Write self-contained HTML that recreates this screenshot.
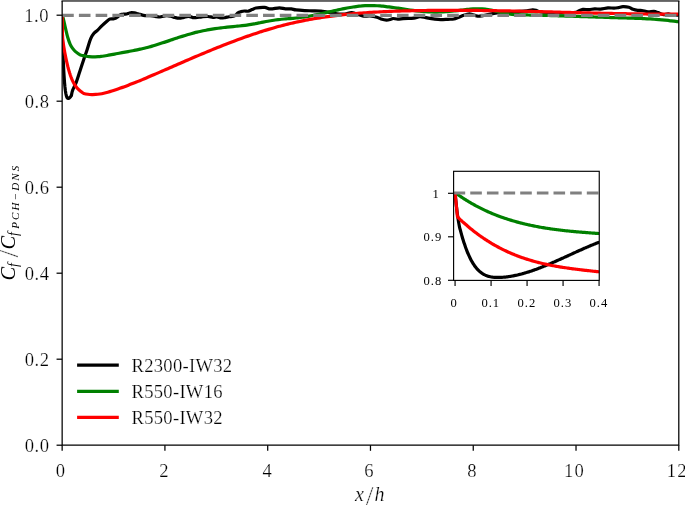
<!DOCTYPE html>
<html lang="en"><head><meta charset="utf-8"><title>Cf ratio</title>
<style>html,body{margin:0;padding:0;background:#fff;overflow:hidden}svg{display:block}text{stroke-linejoin:round;font-family:"Liberation Serif",serif;fill:#000;stroke:#fff;stroke-width:0.24px}.ns text{stroke:none}</style></head><body>
<svg width="685" height="505" viewBox="0 0 685 505">
<rect width="685" height="505" fill="#fff"/>
<defs><clipPath id="cm"><rect x="62.15" y="0" width="616.65" height="445.20"/></clipPath>
<clipPath id="ci"><rect x="453.60" y="171.30" width="145.65" height="109.10"/></clipPath></defs>
<g clip-path="url(#cm)" fill="none" stroke-width="3.20" stroke-linejoin="round" stroke-linecap="butt">
<path d="M62.15,15.20 C62.18,17.13 62.27,23.19 62.33,26.77 C62.38,30.34 62.43,33.19 62.50,36.65 C62.57,40.11 62.69,45.05 62.75,47.51 C62.82,49.97 62.85,50.15 62.90,51.42 C62.94,52.68 62.99,53.91 63.04,55.11 C63.09,56.30 63.13,57.46 63.18,58.59 C63.23,59.71 63.28,60.80 63.32,61.86 C63.37,62.92 63.42,63.95 63.47,64.94 C63.52,65.93 63.56,66.89 63.61,67.83 C63.66,68.76 63.71,69.66 63.75,70.53 C63.80,71.40 63.85,72.24 63.90,73.06 C63.94,73.87 63.99,74.65 64.04,75.41 C64.09,76.17 64.13,76.90 64.18,77.61 C64.23,78.31 64.28,78.99 64.32,79.65 C64.37,80.30 64.42,80.93 64.47,81.53 C64.51,82.14 64.56,82.72 64.61,83.28 C64.66,83.84 64.70,84.38 64.75,84.89 C64.80,85.41 64.85,85.90 64.89,86.38 C64.94,86.85 64.99,87.30 65.04,87.74 C65.09,88.17 65.13,88.59 65.18,88.99 C65.23,89.38 65.28,89.76 65.32,90.13 C65.37,90.49 65.42,90.83 65.47,91.17 C65.51,91.50 65.56,91.81 65.61,92.11 C65.66,92.41 65.70,92.70 65.75,92.97 C65.80,93.24 65.85,93.50 65.89,93.75 C65.94,93.99 65.99,94.22 66.04,94.44 C66.08,94.66 66.13,94.87 66.18,95.07 C66.23,95.27 66.27,95.45 66.32,95.62 C66.37,95.80 66.42,95.96 66.47,96.11 C66.51,96.27 66.56,96.41 66.61,96.54 C66.66,96.67 66.70,96.80 66.75,96.91 C66.80,97.03 66.85,97.13 66.89,97.23 C66.94,97.33 66.99,97.41 67.04,97.50 C67.08,97.58 67.13,97.65 67.18,97.72 C67.23,97.79 67.27,97.85 67.32,97.90 C67.37,97.95 67.42,98.00 67.46,98.05 C67.51,98.09 67.56,98.12 67.61,98.16 C67.65,98.19 67.70,98.22 67.75,98.24 C67.80,98.27 67.84,98.28 67.89,98.30 C67.94,98.32 67.99,98.33 68.04,98.34 C68.08,98.35 68.13,98.36 68.18,98.36 C68.23,98.37 68.27,98.37 68.32,98.37 C68.37,98.37 68.42,98.36 68.46,98.36 C68.51,98.35 68.56,98.34 68.61,98.33 C68.65,98.32 68.70,98.31 68.75,98.29 C68.80,98.27 68.84,98.26 68.89,98.23 C68.94,98.21 68.99,98.19 69.03,98.16 C69.08,98.14 69.13,98.11 69.18,98.08 C69.22,98.05 69.27,98.02 69.32,97.98 C69.37,97.95 69.42,97.91 69.46,97.87 C69.51,97.84 69.56,97.79 69.61,97.75 C69.65,97.71 69.70,97.66 69.75,97.62 C69.80,97.57 69.84,97.52 69.89,97.47 C69.94,97.42 69.99,97.37 70.03,97.32 C70.08,97.26 70.13,97.21 70.18,97.15 C70.22,97.09 70.27,97.03 70.32,96.97 C70.37,96.91 70.41,96.85 70.46,96.78 C70.51,96.72 70.56,96.66 70.60,96.59 C70.65,96.52 70.70,96.45 70.75,96.38 C70.79,96.31 70.84,96.24 70.89,96.17 C70.94,96.10 70.99,96.02 71.03,95.94 C71.08,95.87 71.13,95.79 71.18,95.71 C71.22,95.63 71.27,95.55 71.32,95.47 C71.37,95.39 71.25,96.07 71.46,95.22 C71.67,94.38 71.79,92.59 72.60,90.40 C73.41,88.21 75.10,85.27 76.30,82.10 C77.50,78.93 78.60,75.05 79.80,71.40 C81.00,67.75 82.28,63.82 83.50,60.20 C84.72,56.58 85.92,53.27 87.10,49.70 C88.28,46.13 89.45,41.53 90.60,38.80 C91.75,36.07 92.87,34.70 94.00,33.30 C95.13,31.90 96.02,31.73 97.40,30.40 C98.78,29.07 100.67,26.88 102.30,25.30 C103.93,23.72 105.92,21.93 107.20,20.90 C108.48,19.87 109.03,19.43 110.00,19.10 C110.97,18.77 112.08,19.02 113.00,18.90 C113.92,18.78 114.75,18.72 115.50,18.40 C116.25,18.08 116.83,17.52 117.50,17.00 C118.17,16.48 118.83,15.73 119.50,15.30 C120.17,14.87 120.75,14.60 121.50,14.40 C122.25,14.20 123.13,14.17 124.00,14.10 C124.87,14.03 125.87,14.15 126.70,14.00 C127.53,13.85 128.18,13.45 129.00,13.20 C129.82,12.95 130.68,12.55 131.60,12.50 C132.52,12.45 133.47,12.68 134.50,12.90 C135.53,13.12 136.88,13.55 137.80,13.80 C138.72,14.05 139.05,14.15 140.00,14.40 C140.95,14.65 142.17,15.08 143.50,15.30 C144.83,15.52 146.48,15.60 148.00,15.70 C149.52,15.80 151.27,15.75 152.60,15.90 C153.93,16.05 154.77,16.42 156.00,16.60 C157.23,16.78 158.75,17.07 160.00,17.00 C161.25,16.93 162.33,16.43 163.50,16.20 C164.67,15.97 165.75,15.58 167.00,15.60 C168.25,15.62 169.67,15.98 171.00,16.30 C172.33,16.62 173.68,17.18 175.00,17.50 C176.32,17.82 177.57,18.18 178.90,18.20 C180.23,18.22 181.48,17.92 183.00,17.60 C184.52,17.28 186.67,16.42 188.00,16.30 C189.33,16.18 190.07,16.67 191.00,16.90 C191.93,17.13 192.60,17.62 193.60,17.70 C194.60,17.78 195.60,17.55 197.00,17.40 C198.40,17.25 200.17,16.95 202.00,16.80 C203.83,16.65 206.18,16.42 208.00,16.50 C209.82,16.58 211.40,17.22 212.90,17.30 C214.40,17.38 215.60,16.88 217.00,17.00 C218.40,17.12 219.97,17.90 221.30,18.00 C222.63,18.10 223.72,17.80 225.00,17.60 C226.28,17.40 227.40,17.10 229.00,16.80 C230.60,16.50 233.10,16.47 234.60,15.80 C236.10,15.13 236.93,13.50 238.00,12.80 C239.07,12.10 239.93,11.90 241.00,11.60 C242.07,11.30 243.23,11.07 244.40,11.00 C245.57,10.93 246.73,11.43 248.00,11.20 C249.27,10.97 250.67,10.13 252.00,9.60 C253.33,9.07 253.90,8.37 256.00,8.00 C258.10,7.63 262.18,7.25 264.60,7.40 C267.02,7.55 268.03,8.83 270.50,8.90 C272.97,8.97 276.92,7.80 279.40,7.80 C281.88,7.80 283.42,8.72 285.40,8.90 C287.38,9.08 289.53,8.73 291.30,8.90 C293.07,9.07 293.77,9.67 296.00,9.95 C298.23,10.23 302.03,10.46 304.70,10.60 C307.37,10.74 309.45,10.73 312.00,10.80 C314.55,10.87 317.92,10.88 320.00,11.00 C322.08,11.12 321.67,11.02 324.50,11.50 C327.33,11.98 333.58,13.48 337.00,13.90 C340.42,14.32 342.53,14.22 345.00,14.00 C347.47,13.78 349.35,12.43 351.80,12.60 C354.25,12.77 357.72,14.40 359.70,15.00 C361.68,15.60 361.98,16.03 363.70,16.20 C365.42,16.37 367.80,15.83 370.00,16.00 C372.20,16.17 375.07,16.70 376.90,17.20 C378.73,17.70 379.42,18.52 381.00,19.00 C382.58,19.48 384.73,20.07 386.40,20.10 C388.07,20.13 389.90,19.47 391.00,19.20 C392.10,18.93 391.88,18.52 393.00,18.50 C394.12,18.48 396.03,19.08 397.70,19.10 C399.37,19.12 401.28,18.73 403.00,18.60 C404.72,18.47 406.17,18.37 408.00,18.30 C409.83,18.23 412.02,18.47 414.00,18.20 C415.98,17.93 417.93,16.78 419.90,16.70 C421.87,16.62 424.12,17.42 425.80,17.70 C427.48,17.98 428.52,18.16 430.00,18.40 C431.48,18.64 432.92,18.95 434.70,19.15 C436.48,19.35 438.48,19.58 440.70,19.60 C442.92,19.62 445.78,19.40 448.00,19.30 C450.22,19.20 452.32,19.30 454.00,19.00 C455.68,18.70 456.62,18.07 458.10,17.50 C459.58,16.93 461.42,16.15 462.90,15.60 C464.38,15.05 465.72,14.47 467.00,14.20 C468.28,13.93 469.43,13.87 470.60,14.00 C471.77,14.13 472.82,14.63 474.00,15.00 C475.18,15.37 476.38,16.05 477.70,16.20 C479.02,16.35 480.52,16.10 481.90,15.90 C483.28,15.70 483.98,15.43 486.00,15.00 C488.02,14.57 490.83,13.77 494.00,13.30 C497.17,12.83 500.67,12.52 505.00,12.20 C509.33,11.88 516.33,11.63 520.00,11.40 C523.67,11.17 524.92,11.05 527.00,10.80 C529.08,10.55 531.00,9.98 532.50,9.90 C534.00,9.82 534.77,10.00 536.00,10.30 C537.23,10.60 537.90,11.33 539.90,11.70 C541.90,12.07 544.48,12.28 548.00,12.50 C551.52,12.72 557.33,12.95 561.00,13.00 C564.67,13.05 567.50,12.93 570.00,12.80 C572.50,12.67 574.55,12.50 576.00,12.20 C577.45,11.90 577.55,11.47 578.70,11.00 C579.85,10.53 581.22,9.57 582.90,9.35 C584.58,9.12 586.83,9.72 588.80,9.65 C590.77,9.58 592.72,9.00 594.70,8.90 C596.68,8.80 598.48,9.22 600.70,9.05 C602.92,8.88 605.78,8.05 608.00,7.90 C610.22,7.75 612.27,8.20 614.00,8.15 C615.73,8.10 616.92,7.85 618.40,7.60 C619.88,7.35 621.17,6.71 622.90,6.65 C624.63,6.59 627.12,6.80 628.80,7.25 C630.48,7.70 631.52,8.82 633.00,9.35 C634.48,9.88 636.22,10.21 637.70,10.40 C639.18,10.59 640.18,10.27 641.90,10.50 C643.62,10.73 646.00,11.65 648.00,11.80 C650.00,11.95 652.23,11.27 653.90,11.40 C655.57,11.53 656.40,12.05 658.00,12.60 C659.60,13.15 661.80,14.48 663.50,14.70 C665.20,14.92 666.78,13.85 668.20,13.90 C669.62,13.95 670.70,14.78 672.00,15.00 C673.30,15.22 674.87,15.18 676.00,15.20 C677.13,15.22 677.80,15.13 678.80,15.10 C679.80,15.07 681.47,15.02 682.00,15.00" stroke="#000"/>
<path d="M62.40,15.20 C62.65,16.17 63.42,18.97 63.90,21.00 C64.38,23.03 64.67,24.68 65.30,27.40 C65.93,30.12 66.88,34.48 67.70,37.30 C68.52,40.12 69.38,42.45 70.20,44.30 C71.02,46.15 71.77,47.22 72.60,48.40 C73.43,49.58 73.95,50.33 75.20,51.40 C76.45,52.47 78.78,54.11 80.10,54.83 C81.42,55.54 82.10,55.44 83.10,55.68 C84.10,55.92 85.10,56.12 86.10,56.28 C87.10,56.44 88.10,56.56 89.10,56.65 C90.10,56.74 91.10,56.79 92.10,56.82 C93.10,56.85 94.10,56.84 95.10,56.81 C96.10,56.78 97.10,56.72 98.10,56.65 C99.10,56.57 100.10,56.47 101.10,56.35 C102.10,56.24 103.10,56.10 104.10,55.96 C105.10,55.81 106.10,55.65 107.10,55.48 C108.10,55.31 109.10,55.13 110.10,54.94 C111.10,54.76 112.10,54.57 113.10,54.38 C114.10,54.19 115.10,53.99 116.10,53.80 C117.10,53.61 118.10,53.43 119.10,53.24 C120.10,53.05 121.10,52.87 122.10,52.69 C123.10,52.50 124.10,52.32 125.10,52.14 C126.10,51.95 127.10,51.77 128.10,51.58 C129.10,51.39 130.10,51.20 131.10,51.01 C132.10,50.82 133.10,50.62 134.10,50.42 C135.10,50.22 136.10,50.02 137.10,49.81 C138.10,49.60 139.10,49.39 140.10,49.17 C141.10,48.94 142.10,48.72 143.10,48.48 C144.10,48.25 145.10,48.00 146.10,47.75 C147.10,47.50 148.10,47.23 149.10,46.96 C150.10,46.69 151.10,46.41 152.10,46.12 C153.10,45.84 154.10,45.54 155.10,45.24 C156.10,44.93 157.10,44.62 158.10,44.31 C159.10,43.99 160.10,43.67 161.10,43.35 C162.10,43.02 163.10,42.69 164.10,42.36 C165.10,42.03 166.10,41.70 167.10,41.36 C168.10,41.03 169.10,40.69 170.10,40.35 C171.10,40.02 172.10,39.68 173.10,39.34 C174.10,39.01 175.10,38.67 176.10,38.34 C177.10,38.01 178.10,37.67 179.10,37.35 C180.10,37.02 181.10,36.70 182.10,36.38 C183.10,36.06 184.10,35.75 185.10,35.44 C186.10,35.14 187.10,34.84 188.10,34.55 C189.10,34.25 190.10,33.97 191.10,33.69 C192.10,33.42 193.10,33.15 194.10,32.89 C195.10,32.63 196.10,32.38 197.10,32.14 C198.10,31.90 199.10,31.67 200.10,31.45 C201.10,31.23 202.10,31.01 203.10,30.80 C204.10,30.60 205.10,30.40 206.10,30.21 C207.10,30.01 208.10,29.83 209.10,29.65 C210.10,29.48 211.10,29.31 212.10,29.14 C213.10,28.98 214.10,28.82 215.10,28.67 C216.10,28.52 217.10,28.38 218.10,28.24 C219.10,28.10 220.10,27.97 221.10,27.84 C222.10,27.72 223.10,27.59 224.10,27.48 C225.10,27.36 226.10,27.25 227.10,27.15 C228.10,27.04 229.10,26.94 230.10,26.84 C231.10,26.74 232.10,26.65 233.10,26.56 C234.10,26.46 235.10,26.37 236.10,26.28 C237.10,26.18 238.10,26.09 239.10,25.98 C240.10,25.88 241.10,25.78 242.10,25.67 C243.10,25.56 244.10,25.44 245.10,25.32 C246.10,25.19 247.10,25.06 248.10,24.91 C249.10,24.77 250.10,24.61 251.10,24.44 C252.10,24.27 253.10,24.09 254.10,23.90 C255.10,23.72 256.10,23.52 257.10,23.32 C258.10,23.13 259.10,22.92 260.10,22.72 C261.10,22.52 262.10,22.31 263.10,22.11 C264.10,21.91 265.10,21.72 266.10,21.53 C267.10,21.34 268.10,21.15 269.10,20.98 C270.10,20.80 271.10,20.63 272.10,20.48 C273.10,20.32 274.10,20.16 275.10,20.02 C276.10,19.88 277.10,19.75 278.10,19.62 C279.10,19.50 280.10,19.38 281.10,19.28 C282.10,19.18 283.10,19.08 284.10,19.00 C285.10,18.91 286.10,18.84 287.10,18.76 C288.10,18.68 289.10,18.61 290.10,18.53 C291.10,18.46 292.10,18.38 293.10,18.30 C294.10,18.21 295.10,18.12 296.10,18.02 C297.10,17.92 298.10,17.81 299.10,17.68 C300.10,17.56 301.10,17.43 302.10,17.28 C303.10,17.14 304.10,16.99 305.10,16.83 C306.10,16.67 307.10,16.50 308.10,16.33 C309.10,16.15 310.10,15.97 311.10,15.78 C312.10,15.59 313.10,15.39 314.10,15.19 C315.10,14.99 316.10,14.79 317.10,14.58 C318.10,14.37 319.10,14.15 320.10,13.93 C321.10,13.71 322.10,13.49 323.10,13.27 C324.10,13.05 325.10,12.82 326.10,12.59 C327.10,12.36 328.10,12.13 329.10,11.90 C330.10,11.68 331.10,11.44 332.10,11.22 C333.10,10.99 334.10,10.76 335.10,10.53 C336.10,10.31 337.10,10.08 338.10,9.86 C339.10,9.64 340.10,9.43 341.10,9.21 C342.10,9.00 343.10,8.80 344.10,8.59 C345.10,8.39 346.10,8.20 347.10,8.01 C348.10,7.82 349.10,7.64 350.10,7.47 C351.10,7.30 352.10,7.13 353.10,6.98 C354.10,6.82 355.10,6.68 356.10,6.55 C357.10,6.41 358.10,6.29 359.10,6.18 C360.10,6.07 361.10,5.97 362.10,5.89 C363.10,5.81 364.10,5.74 365.10,5.68 C366.10,5.62 367.10,5.58 368.10,5.56 C369.10,5.53 370.10,5.53 371.10,5.53 C372.10,5.54 373.10,5.56 374.10,5.59 C375.10,5.63 376.10,5.67 377.10,5.73 C378.10,5.79 379.10,5.86 380.10,5.94 C381.10,6.02 382.10,6.11 383.10,6.21 C384.10,6.31 385.10,6.42 386.10,6.54 C387.10,6.65 388.10,6.78 389.10,6.91 C390.10,7.04 391.10,7.17 392.10,7.31 C393.10,7.45 394.10,7.60 395.10,7.75 C396.10,7.89 397.10,8.05 398.10,8.20 C399.10,8.35 400.10,8.51 401.10,8.66 C402.10,8.82 403.10,8.97 404.10,9.13 C405.10,9.28 406.10,9.43 407.10,9.58 C408.10,9.73 409.10,9.88 410.10,10.03 C411.10,10.17 412.10,10.31 413.10,10.45 C414.10,10.58 415.10,10.71 416.10,10.83 C417.10,10.95 418.10,11.07 419.10,11.18 C420.10,11.28 421.10,11.39 422.10,11.47 C423.10,11.56 424.10,11.64 425.10,11.71 C426.10,11.78 427.10,11.84 428.10,11.89 C429.10,11.93 430.10,11.97 431.10,12.00 C432.10,12.02 433.10,12.04 434.10,12.04 C435.10,12.05 436.10,12.05 437.10,12.03 C438.10,12.02 439.10,12.00 440.10,11.97 C441.10,11.94 442.10,11.90 443.10,11.85 C444.10,11.80 445.10,11.75 446.10,11.68 C447.10,11.62 448.10,11.54 449.10,11.46 C450.10,11.38 451.10,11.30 452.10,11.20 C453.10,11.11 454.10,11.00 455.10,10.90 C456.10,10.79 457.10,10.67 458.10,10.55 C459.10,10.43 460.10,10.30 461.10,10.17 C462.10,10.05 463.10,9.91 464.10,9.79 C465.10,9.66 466.10,9.54 467.10,9.43 C468.10,9.32 469.10,9.21 470.10,9.12 C471.10,9.03 472.10,8.95 473.10,8.89 C474.10,8.83 475.10,8.78 476.10,8.76 C477.10,8.73 478.10,8.73 479.10,8.74 C480.10,8.76 481.10,8.80 482.10,8.87 C483.10,8.94 484.10,9.04 485.10,9.16 C486.10,9.28 487.10,9.44 488.10,9.61 C489.10,9.77 490.10,9.97 491.10,10.17 C492.10,10.37 493.10,10.59 494.10,10.81 C495.10,11.04 496.10,11.27 497.10,11.50 C498.10,11.73 499.10,11.96 500.10,12.19 C501.10,12.41 502.10,12.64 503.10,12.84 C504.10,13.05 505.10,13.25 506.10,13.43 C507.10,13.61 508.10,13.78 509.10,13.92 C510.10,14.07 511.10,14.18 512.10,14.29 C513.10,14.39 514.10,14.47 515.10,14.55 C516.10,14.62 517.10,14.67 518.10,14.72 C519.10,14.77 520.10,14.80 521.10,14.83 C522.10,14.86 523.10,14.88 524.10,14.91 C525.10,14.93 526.10,14.95 527.10,14.97 C528.10,14.99 529.10,15.01 530.10,15.03 C531.10,15.05 532.10,15.07 533.10,15.09 C534.10,15.12 535.10,15.14 536.10,15.16 C537.10,15.19 538.10,15.21 539.10,15.24 C540.10,15.26 541.10,15.29 542.10,15.31 C543.10,15.34 544.10,15.37 545.10,15.40 C546.10,15.42 547.10,15.45 548.10,15.48 C549.10,15.51 550.10,15.54 551.10,15.57 C552.10,15.59 553.10,15.62 554.10,15.65 C555.10,15.68 556.10,15.72 557.10,15.75 C558.10,15.78 559.10,15.81 560.10,15.84 C561.10,15.87 562.10,15.90 563.10,15.94 C564.10,15.97 565.10,16.00 566.10,16.03 C567.10,16.07 568.10,16.10 569.10,16.13 C570.10,16.16 571.10,16.20 572.10,16.23 C573.10,16.27 574.10,16.30 575.10,16.33 C576.10,16.37 577.10,16.40 578.10,16.44 C579.10,16.47 580.10,16.50 581.10,16.54 C582.10,16.57 583.10,16.61 584.10,16.64 C585.10,16.68 586.10,16.71 587.10,16.74 C588.10,16.78 589.10,16.81 590.10,16.85 C591.10,16.88 592.10,16.92 593.10,16.95 C594.10,16.98 595.10,17.02 596.10,17.05 C597.10,17.09 598.10,17.12 599.10,17.15 C600.10,17.19 601.10,17.22 602.10,17.26 C603.10,17.29 604.10,17.32 605.10,17.36 C606.10,17.39 607.10,17.42 608.10,17.45 C609.10,17.49 610.10,17.52 611.10,17.55 C612.10,17.58 613.10,17.61 614.10,17.65 C615.10,17.68 616.10,17.71 617.10,17.74 C618.10,17.77 619.10,17.80 620.10,17.83 C621.10,17.86 622.10,17.89 623.10,17.92 C624.10,17.95 625.10,17.98 626.10,18.01 C627.10,18.04 628.10,18.07 629.10,18.10 C630.10,18.13 631.10,18.16 632.10,18.19 C633.10,18.22 634.10,18.26 635.10,18.29 C636.10,18.33 637.10,18.36 638.10,18.40 C639.10,18.44 640.10,18.48 641.10,18.52 C642.10,18.57 643.10,18.61 644.10,18.66 C645.10,18.70 646.10,18.75 647.10,18.81 C648.10,18.86 649.10,18.91 650.10,18.97 C651.10,19.03 652.10,19.09 653.10,19.16 C654.10,19.23 655.10,19.29 656.10,19.37 C657.10,19.44 658.10,19.52 659.10,19.60 C660.10,19.68 661.10,19.77 662.10,19.86 C663.10,19.95 664.10,20.05 665.10,20.15 C666.10,20.25 667.10,20.35 668.10,20.46 C669.10,20.58 670.10,20.69 671.10,20.82 C672.10,20.94 673.10,21.07 674.10,21.20 C675.10,21.34 676.10,21.48 677.10,21.62 C678.10,21.77 679.28,21.96 680.10,22.09 C680.92,22.22 681.68,22.35 682.00,22.40" stroke="#008000"/>
<path d="M62.15,15.20 C62.21,19.09 62.44,34.66 62.50,38.55 C62.54,38.87 62.69,39.83 62.78,40.45 C62.88,41.08 62.97,41.69 63.07,42.30 C63.16,42.91 63.26,43.51 63.35,44.10 C63.45,44.70 63.54,45.28 63.64,45.86 C63.73,46.43 63.83,47.00 63.92,47.56 C64.02,48.13 64.11,48.68 64.21,49.23 C64.30,49.77 64.40,50.31 64.50,50.84 C64.59,51.37 64.69,51.90 64.78,52.41 C64.88,52.93 64.97,53.44 65.07,53.94 C65.16,54.44 65.26,54.93 65.35,55.42 C65.45,55.91 65.54,56.39 65.64,56.86 C65.73,57.33 65.83,57.80 65.92,58.26 C66.02,58.72 66.11,59.17 66.21,59.62 C66.30,60.06 66.40,60.50 66.49,60.93 C66.59,61.37 66.68,61.79 66.78,62.21 C66.87,62.63 66.97,63.04 67.06,63.45 C67.16,63.86 67.25,64.25 67.35,64.65 C67.45,65.04 67.54,65.43 67.64,65.81 C67.73,66.19 67.83,66.57 67.92,66.94 C68.02,67.31 68.11,67.67 68.21,68.03 C68.30,68.38 68.40,68.73 68.49,69.08 C68.59,69.43 68.68,69.76 68.78,70.10 C68.87,70.43 68.97,70.76 69.06,71.08 C69.16,71.41 69.25,71.72 69.35,72.04 C69.44,72.35 69.54,72.66 69.63,72.96 C69.73,73.26 69.82,73.55 69.92,73.85 C70.01,74.14 70.11,74.42 70.20,74.70 C70.30,74.98 70.40,75.26 70.49,75.53 C70.59,75.80 70.68,76.07 70.78,76.33 C70.87,76.59 70.97,76.84 71.06,77.10 C71.16,77.35 71.25,77.59 71.35,77.84 C71.44,78.08 71.54,78.32 71.63,78.55 C71.73,78.78 71.82,79.01 71.92,79.24 C72.01,79.46 72.11,79.68 72.20,79.90 C72.30,80.11 72.39,80.33 72.49,80.53 C72.58,80.74 72.68,80.95 72.77,81.15 C72.87,81.35 72.96,81.54 73.06,81.73 C73.16,81.93 73.25,82.11 73.35,82.30 C73.44,82.48 73.54,82.66 73.63,82.84 C73.73,83.02 73.82,83.19 73.92,83.36 C74.01,83.53 74.11,83.70 74.20,83.86 C74.30,84.03 74.39,84.19 74.49,84.34 C74.58,84.50 74.68,84.66 74.77,84.81 C74.87,84.96 74.96,85.10 75.06,85.25 C75.15,85.39 75.25,85.54 75.34,85.67 C75.44,85.81 75.53,85.95 75.63,86.08 C75.72,86.22 75.82,86.35 75.91,86.47 C76.01,86.60 76.11,86.73 76.20,86.85 C76.30,86.97 76.39,87.09 76.49,87.21 C76.58,87.33 76.68,87.44 76.77,87.56 C76.87,87.67 76.96,87.78 77.06,87.89 C77.15,88.00 77.25,88.11 77.34,88.21 C77.44,88.32 77.53,88.42 77.63,88.52 C77.72,88.62 77.82,88.72 77.91,88.82 C78.01,88.92 78.10,89.01 78.20,89.11 C78.29,89.20 78.39,89.29 78.48,89.38 C78.58,89.48 78.67,89.56 78.77,89.65 C78.86,89.74 78.96,89.83 79.06,89.91 C79.15,90.00 79.25,90.08 79.34,90.17 C79.44,90.25 79.53,90.33 79.63,90.41 C79.72,90.49 79.82,90.57 79.91,90.65 C80.01,90.73 80.10,90.81 80.20,90.89 C80.29,90.96 80.39,91.04 80.48,91.12 C80.58,91.19 80.67,91.27 80.77,91.34 C80.86,91.42 80.96,91.49 81.05,91.56 C81.15,91.64 81.24,91.71 81.34,91.78 C81.43,91.86 81.53,91.93 81.62,92.00 C81.72,92.07 81.81,92.15 81.91,92.22 C82.01,92.29 82.10,92.36 82.20,92.44 C82.29,92.51 82.39,92.58 82.48,92.65 C82.58,92.73 82.55,92.74 82.77,92.87 C82.99,93.01 82.96,93.25 83.80,93.48 C84.64,93.71 86.47,94.08 87.80,94.27 C89.13,94.45 90.47,94.54 91.80,94.58 C93.13,94.61 94.47,94.56 95.80,94.47 C97.13,94.38 98.47,94.21 99.80,94.01 C101.13,93.80 102.47,93.54 103.80,93.24 C105.13,92.95 106.47,92.61 107.80,92.24 C109.13,91.87 110.47,91.47 111.80,91.05 C113.13,90.64 114.47,90.19 115.80,89.74 C117.13,89.29 118.47,88.83 119.80,88.35 C121.13,87.88 122.47,87.40 123.80,86.91 C125.13,86.42 126.47,85.92 127.80,85.41 C129.13,84.90 130.47,84.39 131.80,83.86 C133.13,83.34 134.47,82.81 135.80,82.27 C137.13,81.74 138.47,81.19 139.80,80.65 C141.13,80.10 142.47,79.55 143.80,78.99 C145.13,78.43 146.47,77.87 147.80,77.30 C149.13,76.74 150.47,76.17 151.80,75.59 C153.13,75.02 154.47,74.45 155.80,73.87 C157.13,73.30 158.47,72.72 159.80,72.14 C161.13,71.56 162.47,70.98 163.80,70.40 C165.13,69.82 166.47,69.24 167.80,68.66 C169.13,68.08 170.47,67.50 171.80,66.92 C173.13,66.34 174.47,65.76 175.80,65.18 C177.13,64.60 178.47,64.02 179.80,63.44 C181.13,62.86 182.47,62.28 183.80,61.71 C185.13,61.13 186.47,60.56 187.80,59.99 C189.13,59.41 190.47,58.84 191.80,58.27 C193.13,57.70 194.47,57.13 195.80,56.57 C197.13,56.00 198.47,55.43 199.80,54.87 C201.13,54.31 202.47,53.75 203.80,53.19 C205.13,52.64 206.47,52.08 207.80,51.53 C209.13,50.98 210.47,50.43 211.80,49.88 C213.13,49.34 214.47,48.80 215.80,48.26 C217.13,47.72 218.47,47.18 219.80,46.65 C221.13,46.12 222.47,45.59 223.80,45.07 C225.13,44.54 226.47,44.02 227.80,43.50 C229.13,42.99 230.47,42.48 231.80,41.97 C233.13,41.46 234.47,40.96 235.80,40.46 C237.13,39.97 238.47,39.47 239.80,38.99 C241.13,38.50 242.47,38.02 243.80,37.54 C245.13,37.06 246.47,36.59 247.80,36.13 C249.13,35.66 250.47,35.20 251.80,34.75 C253.13,34.29 254.47,33.84 255.80,33.40 C257.13,32.96 258.47,32.52 259.80,32.10 C261.13,31.67 262.47,31.24 263.80,30.83 C265.13,30.41 266.47,30.01 267.80,29.60 C269.13,29.20 270.47,28.81 271.80,28.42 C273.13,28.04 274.47,27.66 275.80,27.29 C277.13,26.91 278.47,26.55 279.80,26.19 C281.13,25.84 282.47,25.49 283.80,25.15 C285.13,24.81 286.47,24.48 287.80,24.16 C289.13,23.83 290.47,23.52 291.80,23.21 C293.13,22.90 294.47,22.60 295.80,22.31 C297.13,22.02 298.47,21.73 299.80,21.45 C301.13,21.17 302.47,20.90 303.80,20.64 C305.13,20.38 306.47,20.12 307.80,19.87 C309.13,19.62 310.47,19.38 311.80,19.14 C313.13,18.91 314.47,18.68 315.80,18.45 C317.13,18.23 318.47,18.01 319.80,17.80 C321.13,17.59 322.47,17.39 323.80,17.19 C325.13,16.99 326.47,16.80 327.80,16.61 C329.13,16.43 330.47,16.25 331.80,16.07 C333.13,15.90 334.47,15.73 335.80,15.56 C337.13,15.40 338.47,15.24 339.80,15.09 C341.13,14.94 342.47,14.79 343.80,14.65 C345.13,14.50 346.47,14.37 347.80,14.23 C349.13,14.10 350.47,13.97 351.80,13.85 C353.13,13.73 354.47,13.61 355.80,13.49 C357.13,13.38 358.47,13.27 359.80,13.16 C361.13,13.06 362.47,12.96 363.80,12.86 C365.13,12.76 366.47,12.67 367.80,12.58 C369.13,12.49 370.47,12.40 371.80,12.32 C373.13,12.24 374.47,12.16 375.80,12.09 C377.13,12.01 378.47,11.94 379.80,11.87 C381.13,11.80 382.47,11.74 383.80,11.68 C385.13,11.61 386.47,11.55 387.80,11.50 C389.13,11.44 390.47,11.39 391.80,11.34 C393.13,11.28 394.47,11.24 395.80,11.19 C397.13,11.14 398.47,11.10 399.80,11.06 C401.13,11.02 402.47,10.98 403.80,10.94 C405.13,10.90 406.47,10.87 407.80,10.83 C409.13,10.80 410.47,10.77 411.80,10.74 C413.13,10.71 414.47,10.68 415.80,10.65 C417.13,10.63 418.47,10.60 419.80,10.58 C421.13,10.56 422.47,10.53 423.80,10.51 C425.13,10.49 426.47,10.48 427.80,10.46 C429.13,10.44 430.47,10.43 431.80,10.41 C433.13,10.40 434.47,10.39 435.80,10.38 C437.13,10.36 438.47,10.36 439.80,10.35 C441.13,10.34 442.47,10.33 443.80,10.33 C445.13,10.32 446.47,10.32 447.80,10.32 C449.13,10.31 450.47,10.31 451.80,10.31 C453.13,10.31 454.47,10.31 455.80,10.32 C457.13,10.32 458.47,10.32 459.80,10.33 C461.13,10.33 462.47,10.34 463.80,10.34 C465.13,10.35 466.47,10.36 467.80,10.37 C469.13,10.38 470.47,10.39 471.80,10.40 C473.13,10.41 474.47,10.42 475.80,10.44 C477.13,10.45 478.47,10.47 479.80,10.48 C481.13,10.50 482.47,10.51 483.80,10.53 C485.13,10.55 486.47,10.57 487.80,10.58 C489.13,10.60 490.47,10.62 491.80,10.64 C493.13,10.67 494.47,10.69 495.80,10.71 C497.13,10.73 498.47,10.75 499.80,10.78 C501.13,10.80 502.47,10.83 503.80,10.85 C505.13,10.88 506.47,10.90 507.80,10.93 C509.13,10.96 510.47,10.98 511.80,11.01 C513.13,11.04 514.47,11.07 515.80,11.09 C517.13,11.12 518.47,11.15 519.80,11.18 C521.13,11.21 522.47,11.24 523.80,11.27 C525.13,11.30 526.47,11.34 527.80,11.37 C529.13,11.40 530.47,11.43 531.80,11.46 C533.13,11.49 534.47,11.53 535.80,11.56 C537.13,11.59 538.47,11.63 539.80,11.66 C541.13,11.69 542.47,11.73 543.80,11.76 C545.13,11.80 546.47,11.83 547.80,11.86 C549.13,11.90 550.47,11.93 551.80,11.97 C553.13,12.00 554.47,12.04 555.80,12.07 C557.13,12.11 558.47,12.14 559.80,12.18 C561.13,12.21 562.47,12.25 563.80,12.28 C565.13,12.32 566.47,12.35 567.80,12.39 C569.13,12.42 570.47,12.45 571.80,12.49 C573.13,12.52 574.47,12.56 575.80,12.59 C577.13,12.63 578.47,12.66 579.80,12.70 C581.13,12.73 582.47,12.76 583.80,12.80 C585.13,12.83 586.47,12.86 587.80,12.90 C589.13,12.93 590.47,12.96 591.80,12.99 C593.13,13.03 594.47,13.06 595.80,13.09 C597.13,13.12 598.47,13.15 599.80,13.18 C601.13,13.22 602.47,13.25 603.80,13.28 C605.13,13.31 606.47,13.33 607.80,13.36 C609.13,13.39 610.47,13.42 611.80,13.45 C613.13,13.48 614.47,13.50 615.80,13.53 C617.13,13.56 618.47,13.58 619.80,13.61 C621.13,13.63 622.47,13.66 623.80,13.68 C625.13,13.71 626.47,13.73 627.80,13.75 C629.13,13.77 630.47,13.80 631.80,13.82 C633.13,13.84 634.47,13.86 635.80,13.88 C637.13,13.90 638.47,13.91 639.80,13.93 C641.13,13.95 642.47,13.97 643.80,13.98 C645.13,14.00 646.47,14.01 647.80,14.03 C649.13,14.04 650.47,14.05 651.80,14.06 C653.13,14.08 654.47,14.09 655.80,14.10 C657.13,14.11 658.47,14.11 659.80,14.12 C661.13,14.13 662.47,14.14 663.80,14.14 C665.13,14.15 666.47,14.15 667.80,14.15 C669.13,14.15 670.47,14.16 671.80,14.16 C673.13,14.16 674.47,14.16 675.80,14.15 C677.13,14.15 678.77,14.15 679.80,14.14 C680.83,14.14 681.63,14.13 682.00,14.13" stroke="#ff0000"/>
<path d="M62.15,15.35 H678.80" stroke="#808080" stroke-dasharray="11.62 5.12"/>
</g>
<rect x="61.52" y="0" width="617.90" height="1.9" fill="#626262"/>
<g stroke="#000" stroke-width="1.25" fill="none">
<path d="M62.15,1 V445.20 H678.80 V1"/>
<path d="M62.15,445.20 h-5.60"/>
<path d="M62.15,359.20 h-5.60"/>
<path d="M62.15,273.20 h-5.60"/>
<path d="M62.15,187.20 h-5.60"/>
<path d="M62.15,101.20 h-5.60"/>
<path d="M62.15,15.20 h-5.60"/>
<path d="M62.15,445.20 v5.60"/>
<path d="M164.92,445.20 v5.60"/>
<path d="M267.70,445.20 v5.60"/>
<path d="M370.47,445.20 v5.60"/>
<path d="M473.25,445.20 v5.60"/>
<path d="M576.02,445.20 v5.60"/>
<path d="M678.80,445.20 v5.60"/>
</g>
<text x="49.70" y="451.90" font-size="18.6" text-anchor="end" letter-spacing="0.6">0.0</text>
<text x="49.70" y="365.90" font-size="18.6" text-anchor="end" letter-spacing="0.6">0.2</text>
<text x="49.70" y="279.90" font-size="18.6" text-anchor="end" letter-spacing="0.6">0.4</text>
<text x="49.70" y="193.90" font-size="18.6" text-anchor="end" letter-spacing="0.6">0.6</text>
<text x="49.70" y="107.90" font-size="18.6" text-anchor="end" letter-spacing="0.6">0.8</text>
<text x="49.20" y="21.90" font-size="18.6" text-anchor="end" letter-spacing="0.6">1.0</text>
<text x="55.85" y="476.6" font-size="18.6">0</text>
<text x="159.15" y="476.6" font-size="18.6">2</text>
<text x="262.40" y="476.6" font-size="18.6">4</text>
<text x="364.15" y="476.6" font-size="18.6">6</text>
<text x="467.20" y="476.6" font-size="18.6">8</text>
<text x="563.95" y="476.6" font-size="18.6" letter-spacing="1.2">10</text>
<text x="666.85" y="476.6" font-size="18.6" letter-spacing="1.2">12</text>
<text x="354.9" y="500.5" font-size="20" font-style="italic">x</text>
<text x="365.4" y="505.6" font-size="29" style="stroke:#fff;stroke-width:0.6px">/</text>
<text x="374.6" y="500.5" font-size="20" font-style="italic">h</text>
<g transform="translate(14.7,280.6) rotate(-90)" font-style="italic" class="ns">
<text x="0" y="0" font-size="20.5">C</text>
<text x="13.6" y="3.4" font-size="14">f</text>
<text x="23.2" y="3.7" font-size="29" font-style="normal" style="stroke:#fff;stroke-width:0.6px">/</text>
<text x="31" y="0" font-size="20.5">C</text>
<text x="44.6" y="3.4" font-size="14">f</text>
<text x="51.8" y="4.5" font-size="11" letter-spacing="2.15">PCH−DNS</text>
</g>
<path d="M77.1,365.20 H118.8" stroke="#000" stroke-width="3.20" fill="none"/>
<text x="131.6" y="371.60" font-size="18.6" letter-spacing="0.26">R2300-IW32</text>
<path d="M77.1,391.30 H118.8" stroke="#008000" stroke-width="3.20" fill="none"/>
<text x="131.6" y="397.70" font-size="18.6" letter-spacing="0.26">R550-IW16</text>
<path d="M77.1,417.40 H118.8" stroke="#ff0000" stroke-width="3.20" fill="none"/>
<text x="131.6" y="423.80" font-size="18.6" letter-spacing="0.26">R550-IW32</text>
<rect x="453.60" y="171.30" width="145.65" height="109.10" fill="#fff"/>
<g clip-path="url(#ci)" fill="none" stroke-width="3.20" stroke-linejoin="round">
<path d="M455.10,193.30 C455.30,195.25 455.90,201.38 456.30,205.00 C456.70,208.62 457.00,211.50 457.50,215.00 C458.00,218.50 458.83,223.50 459.30,225.99 C459.77,228.48 459.97,228.66 460.30,229.94 C460.63,231.22 460.97,232.46 461.30,233.67 C461.63,234.88 461.97,236.05 462.30,237.19 C462.63,238.33 462.97,239.43 463.30,240.51 C463.63,241.58 463.97,242.61 464.30,243.62 C464.63,244.62 464.97,245.60 465.30,246.54 C465.63,247.48 465.97,248.39 466.30,249.27 C466.63,250.16 466.97,251.01 467.30,251.83 C467.63,252.65 467.97,253.45 468.30,254.21 C468.63,254.98 468.97,255.72 469.30,256.43 C469.63,257.15 469.97,257.83 470.30,258.49 C470.63,259.16 470.97,259.79 471.30,260.41 C471.63,261.02 471.97,261.61 472.30,262.17 C472.63,262.74 472.97,263.28 473.30,263.80 C473.63,264.33 473.97,264.82 474.30,265.30 C474.63,265.78 474.97,266.24 475.30,266.68 C475.63,267.12 475.97,267.54 476.30,267.94 C476.63,268.35 476.97,268.73 477.30,269.10 C477.63,269.46 477.97,269.81 478.30,270.15 C478.63,270.48 478.97,270.80 479.30,271.11 C479.63,271.41 479.97,271.70 480.30,271.97 C480.63,272.25 480.97,272.51 481.30,272.76 C481.63,273.01 481.97,273.24 482.30,273.47 C482.63,273.69 482.97,273.90 483.30,274.10 C483.63,274.30 483.97,274.48 484.30,274.66 C484.63,274.83 484.97,275.00 485.30,275.15 C485.63,275.31 485.97,275.45 486.30,275.59 C486.63,275.72 486.97,275.85 487.30,275.96 C487.63,276.08 487.97,276.18 488.30,276.28 C488.63,276.38 488.97,276.47 489.30,276.55 C489.63,276.64 489.97,276.71 490.30,276.78 C490.63,276.85 490.97,276.91 491.30,276.96 C491.63,277.02 491.97,277.07 492.30,277.11 C492.63,277.15 492.97,277.19 493.30,277.22 C493.63,277.26 493.97,277.28 494.30,277.31 C494.63,277.33 494.97,277.35 495.30,277.37 C495.63,277.38 495.97,277.40 496.30,277.41 C496.63,277.42 496.97,277.42 497.30,277.43 C497.63,277.43 497.97,277.44 498.30,277.43 C498.63,277.43 498.97,277.43 499.30,277.42 C499.63,277.42 499.97,277.41 500.30,277.40 C500.63,277.39 500.97,277.37 501.30,277.36 C501.63,277.34 501.97,277.32 502.30,277.30 C502.63,277.28 502.97,277.25 503.30,277.23 C503.63,277.20 503.97,277.17 504.30,277.14 C504.63,277.11 504.97,277.08 505.30,277.05 C505.63,277.01 505.97,276.97 506.30,276.94 C506.63,276.90 506.97,276.85 507.30,276.81 C507.63,276.77 507.97,276.72 508.30,276.68 C508.63,276.63 508.97,276.58 509.30,276.53 C509.63,276.48 509.97,276.43 510.30,276.37 C510.63,276.32 510.97,276.26 511.30,276.20 C511.63,276.14 511.97,276.08 512.30,276.02 C512.63,275.96 512.97,275.90 513.30,275.83 C513.63,275.77 513.97,275.70 514.30,275.63 C514.63,275.57 514.97,275.50 515.30,275.43 C515.63,275.36 515.97,275.28 516.30,275.21 C516.63,275.14 516.97,275.06 517.30,274.98 C517.63,274.91 517.97,274.83 518.30,274.75 C518.63,274.67 518.97,274.59 519.30,274.51 C519.63,274.42 519.97,274.34 520.30,274.25 C520.63,274.17 520.97,274.08 521.30,273.99 C521.63,273.91 521.97,273.82 522.30,273.73 C522.63,273.64 522.97,273.54 523.30,273.45 C523.63,273.36 523.97,273.26 524.30,273.17 C524.63,273.07 524.97,272.97 525.30,272.87 C525.63,272.78 525.97,272.68 526.30,272.58 C526.63,272.47 526.97,272.37 527.30,272.27 C527.63,272.17 527.97,272.06 528.30,271.96 C528.63,271.85 528.97,271.74 529.30,271.64 C529.63,271.53 529.97,271.42 530.30,271.31 C530.63,271.20 530.97,271.09 531.30,270.98 C531.63,270.86 531.97,270.75 532.30,270.64 C532.63,270.52 532.97,270.41 533.30,270.29 C533.63,270.17 533.97,270.06 534.30,269.94 C534.63,269.82 534.97,269.70 535.30,269.58 C535.63,269.46 535.97,269.34 536.30,269.22 C536.63,269.09 536.97,268.97 537.30,268.85 C537.63,268.72 537.97,268.60 538.30,268.47 C538.63,268.35 538.97,268.22 539.30,268.09 C539.63,267.96 539.97,267.84 540.30,267.71 C540.63,267.58 540.97,267.45 541.30,267.32 C541.63,267.19 541.97,267.05 542.30,266.92 C542.63,266.79 542.97,266.66 543.30,266.52 C543.63,266.39 543.97,266.25 544.30,266.12 C544.63,265.98 544.97,265.85 545.30,265.71 C545.63,265.57 545.97,265.44 546.30,265.30 C546.63,265.16 546.97,265.02 547.30,264.88 C547.63,264.74 547.97,264.60 548.30,264.46 C548.63,264.32 548.97,264.18 549.30,264.04 C549.63,263.90 549.97,263.76 550.30,263.61 C550.63,263.47 550.97,263.33 551.30,263.18 C551.63,263.04 551.97,262.90 552.30,262.75 C552.63,262.61 552.97,262.46 553.30,262.32 C553.63,262.17 553.97,262.03 554.30,261.88 C554.63,261.73 554.97,261.59 555.30,261.44 C555.63,261.29 555.97,261.14 556.30,261.00 C556.63,260.85 556.97,260.70 557.30,260.55 C557.63,260.40 557.97,260.25 558.30,260.10 C558.63,259.95 558.97,259.80 559.30,259.65 C559.63,259.50 559.97,259.35 560.30,259.20 C560.63,259.05 560.97,258.90 561.30,258.75 C561.63,258.60 561.97,258.45 562.30,258.30 C562.63,258.15 562.97,258.00 563.30,257.84 C563.63,257.69 563.97,257.54 564.30,257.39 C564.63,257.24 564.97,257.08 565.30,256.93 C565.63,256.78 565.97,256.63 566.30,256.47 C566.63,256.32 566.97,256.17 567.30,256.02 C567.63,255.86 567.97,255.71 568.30,255.56 C568.63,255.41 568.97,255.25 569.30,255.10 C569.63,254.95 569.97,254.80 570.30,254.64 C570.63,254.49 570.97,254.34 571.30,254.19 C571.63,254.03 571.97,253.88 572.30,253.73 C572.63,253.58 572.97,253.42 573.30,253.27 C573.63,253.12 573.97,252.97 574.30,252.81 C574.63,252.66 574.97,252.51 575.30,252.36 C575.63,252.21 575.97,252.06 576.30,251.91 C576.63,251.75 576.97,251.60 577.30,251.45 C577.63,251.30 577.97,251.15 578.30,251.00 C578.63,250.85 578.97,250.70 579.30,250.55 C579.63,250.40 579.97,250.25 580.30,250.10 C580.63,249.95 580.97,249.80 581.30,249.66 C581.63,249.51 581.97,249.36 582.30,249.21 C582.63,249.06 582.97,248.92 583.30,248.77 C583.63,248.62 583.97,248.48 584.30,248.33 C584.63,248.18 584.97,248.04 585.30,247.89 C585.63,247.75 585.97,247.60 586.30,247.46 C586.63,247.31 586.97,247.17 587.30,247.03 C587.63,246.88 587.97,246.74 588.30,246.60 C588.63,246.46 588.97,246.31 589.30,246.17 C589.63,246.03 589.97,245.89 590.30,245.75 C590.63,245.61 590.97,245.47 591.30,245.33 C591.63,245.19 591.97,245.06 592.30,244.92 C592.63,244.78 592.97,244.64 593.30,244.51 C593.63,244.37 593.97,244.24 594.30,244.10 C594.63,243.97 594.97,243.83 595.30,243.70 C595.63,243.57 595.97,243.43 596.30,243.30 C596.63,243.17 596.97,243.04 597.30,242.91 C597.63,242.78 597.97,242.65 598.30,242.52 C598.63,242.39 598.97,242.26 599.30,242.14 C599.63,242.01 599.97,241.88 600.30,241.76 C600.63,241.63 600.97,241.51 601.30,241.39 C601.63,241.26 601.97,241.14 602.30,241.02 C602.63,240.90 602.97,240.78 603.30,240.66 C603.63,240.54 603.97,240.42 604.30,240.30 C604.63,240.18 605.02,240.05 605.30,239.95 C605.58,239.85 605.88,239.75 606.00,239.71" stroke="#000"/>
<path d="M455.10,193.30 C455.67,193.59 457.60,194.53 458.50,195.05 C459.40,195.57 459.83,195.97 460.50,196.42 C461.17,196.87 461.83,197.32 462.50,197.76 C463.17,198.20 463.83,198.63 464.50,199.06 C465.17,199.48 465.83,199.90 466.50,200.32 C467.17,200.73 467.83,201.14 468.50,201.54 C469.17,201.95 469.83,202.34 470.50,202.73 C471.17,203.12 471.83,203.51 472.50,203.89 C473.17,204.26 473.83,204.64 474.50,205.01 C475.17,205.37 475.83,205.73 476.50,206.09 C477.17,206.45 477.83,206.80 478.50,207.14 C479.17,207.49 479.83,207.83 480.50,208.16 C481.17,208.50 481.83,208.83 482.50,209.15 C483.17,209.48 483.83,209.80 484.50,210.11 C485.17,210.43 485.83,210.74 486.50,211.04 C487.17,211.34 487.83,211.64 488.50,211.94 C489.17,212.23 489.83,212.52 490.50,212.81 C491.17,213.09 491.83,213.37 492.50,213.65 C493.17,213.93 493.83,214.20 494.50,214.47 C495.17,214.73 495.83,215.00 496.50,215.26 C497.17,215.51 497.83,215.77 498.50,216.02 C499.17,216.27 499.83,216.51 500.50,216.76 C501.17,217.00 501.83,217.24 502.50,217.47 C503.17,217.70 503.83,217.93 504.50,218.16 C505.17,218.39 505.83,218.61 506.50,218.83 C507.17,219.05 507.83,219.26 508.50,219.47 C509.17,219.68 509.83,219.89 510.50,220.10 C511.17,220.30 511.83,220.50 512.50,220.70 C513.17,220.90 513.83,221.09 514.50,221.28 C515.17,221.47 515.83,221.66 516.50,221.85 C517.17,222.03 517.83,222.21 518.50,222.39 C519.17,222.57 519.83,222.74 520.50,222.91 C521.17,223.09 521.83,223.25 522.50,223.42 C523.17,223.59 523.83,223.75 524.50,223.91 C525.17,224.07 525.83,224.23 526.50,224.38 C527.17,224.53 527.83,224.69 528.50,224.83 C529.17,224.98 529.83,225.13 530.50,225.27 C531.17,225.41 531.83,225.55 532.50,225.69 C533.17,225.83 533.83,225.96 534.50,226.10 C535.17,226.23 535.83,226.36 536.50,226.49 C537.17,226.62 537.83,226.74 538.50,226.86 C539.17,226.99 539.83,227.11 540.50,227.22 C541.17,227.34 541.83,227.46 542.50,227.57 C543.17,227.68 543.83,227.80 544.50,227.90 C545.17,228.01 545.83,228.12 546.50,228.23 C547.17,228.33 547.83,228.43 548.50,228.53 C549.17,228.63 549.83,228.73 550.50,228.83 C551.17,228.93 551.83,229.02 552.50,229.11 C553.17,229.21 553.83,229.30 554.50,229.39 C555.17,229.48 555.83,229.56 556.50,229.65 C557.17,229.74 557.83,229.82 558.50,229.90 C559.17,229.99 559.83,230.07 560.50,230.15 C561.17,230.23 561.83,230.30 562.50,230.38 C563.17,230.46 563.83,230.53 564.50,230.60 C565.17,230.68 565.83,230.75 566.50,230.82 C567.17,230.89 567.83,230.96 568.50,231.03 C569.17,231.10 569.83,231.16 570.50,231.23 C571.17,231.29 571.83,231.36 572.50,231.42 C573.17,231.49 573.83,231.55 574.50,231.61 C575.17,231.67 575.83,231.73 576.50,231.79 C577.17,231.85 577.83,231.91 578.50,231.96 C579.17,232.02 579.83,232.08 580.50,232.13 C581.17,232.19 581.83,232.24 582.50,232.30 C583.17,232.35 583.83,232.41 584.50,232.46 C585.17,232.51 585.83,232.56 586.50,232.62 C587.17,232.67 587.83,232.72 588.50,232.77 C589.17,232.82 589.83,232.87 590.50,232.92 C591.17,232.97 591.83,233.02 592.50,233.07 C593.17,233.12 593.83,233.16 594.50,233.21 C595.17,233.26 595.83,233.31 596.50,233.36 C597.17,233.41 597.83,233.45 598.50,233.50 C599.17,233.55 599.83,233.60 600.50,233.64 C601.17,233.69 601.83,233.74 602.50,233.78 C603.17,233.83 603.92,233.89 604.50,233.93 C605.08,233.97 605.75,234.02 606.00,234.03" stroke="#008000"/>
<path d="M455.10,193.30 C455.50,197.24 457.10,212.98 457.50,216.92 C457.83,217.24 458.83,218.21 459.50,218.84 C460.17,219.48 460.83,220.10 461.50,220.72 C462.17,221.33 462.83,221.94 463.50,222.54 C464.17,223.14 464.83,223.73 465.50,224.31 C466.17,224.90 466.83,225.47 467.50,226.04 C468.17,226.61 468.83,227.17 469.50,227.72 C470.17,228.27 470.83,228.82 471.50,229.36 C472.17,229.89 472.83,230.42 473.50,230.94 C474.17,231.47 474.83,231.98 475.50,232.49 C476.17,233.00 476.83,233.50 477.50,233.99 C478.17,234.48 478.83,234.97 479.50,235.45 C480.17,235.92 480.83,236.40 481.50,236.86 C482.17,237.32 482.83,237.78 483.50,238.23 C484.17,238.68 484.83,239.13 485.50,239.57 C486.17,240.00 486.83,240.43 487.50,240.86 C488.17,241.28 488.83,241.70 489.50,242.11 C490.17,242.52 490.83,242.93 491.50,243.32 C492.17,243.72 492.83,244.11 493.50,244.50 C494.17,244.88 494.83,245.26 495.50,245.64 C496.17,246.01 496.83,246.38 497.50,246.74 C498.17,247.10 498.83,247.46 499.50,247.81 C500.17,248.16 500.83,248.50 501.50,248.84 C502.17,249.18 502.83,249.51 503.50,249.83 C504.17,250.16 504.83,250.48 505.50,250.80 C506.17,251.11 506.83,251.42 507.50,251.73 C508.17,252.03 508.83,252.33 509.50,252.63 C510.17,252.92 510.83,253.21 511.50,253.49 C512.17,253.78 512.83,254.06 513.50,254.33 C514.17,254.61 514.83,254.87 515.50,255.14 C516.17,255.40 516.83,255.66 517.50,255.92 C518.17,256.17 518.83,256.42 519.50,256.67 C520.17,256.91 520.83,257.15 521.50,257.39 C522.17,257.62 522.83,257.85 523.50,258.08 C524.17,258.31 524.83,258.53 525.50,258.75 C526.17,258.97 526.83,259.18 527.50,259.39 C528.17,259.60 528.83,259.81 529.50,260.01 C530.17,260.21 530.83,260.41 531.50,260.61 C532.17,260.80 532.83,260.99 533.50,261.18 C534.17,261.37 534.83,261.55 535.50,261.73 C536.17,261.91 536.83,262.08 537.50,262.26 C538.17,262.43 538.83,262.60 539.50,262.76 C540.17,262.93 540.83,263.09 541.50,263.25 C542.17,263.41 542.83,263.56 543.50,263.72 C544.17,263.87 544.83,264.02 545.50,264.16 C546.17,264.31 546.83,264.45 547.50,264.59 C548.17,264.73 548.83,264.87 549.50,265.01 C550.17,265.14 550.83,265.27 551.50,265.40 C552.17,265.53 552.83,265.66 553.50,265.78 C554.17,265.91 554.83,266.03 555.50,266.15 C556.17,266.27 556.83,266.38 557.50,266.50 C558.17,266.61 558.83,266.73 559.50,266.84 C560.17,266.95 560.83,267.06 561.50,267.16 C562.17,267.27 562.83,267.37 563.50,267.47 C564.17,267.58 564.83,267.68 565.50,267.78 C566.17,267.87 566.83,267.97 567.50,268.07 C568.17,268.16 568.83,268.25 569.50,268.35 C570.17,268.44 570.83,268.53 571.50,268.62 C572.17,268.71 572.83,268.80 573.50,268.88 C574.17,268.97 574.83,269.05 575.50,269.14 C576.17,269.22 576.83,269.30 577.50,269.39 C578.17,269.47 578.83,269.55 579.50,269.63 C580.17,269.71 580.83,269.79 581.50,269.87 C582.17,269.94 582.83,270.02 583.50,270.10 C584.17,270.17 584.83,270.25 585.50,270.33 C586.17,270.40 586.83,270.48 587.50,270.55 C588.17,270.63 588.83,270.70 589.50,270.77 C590.17,270.85 590.83,270.92 591.50,271.00 C592.17,271.07 592.83,271.14 593.50,271.22 C594.17,271.29 594.83,271.36 595.50,271.43 C596.17,271.51 596.83,271.58 597.50,271.66 C598.17,271.73 598.83,271.80 599.50,271.88 C600.17,271.95 600.83,272.03 601.50,272.10 C602.17,272.17 602.83,272.25 603.50,272.33 C604.17,272.40 605.08,272.51 605.50,272.56 C605.92,272.60 605.92,272.60 606.00,272.61" stroke="#ff0000"/>
<path d="M453.60,193.00 H599.25" stroke="#808080" stroke-dasharray="11.6 5.05"/>
</g>
<g stroke="#000" stroke-width="1.15" fill="none">
<rect x="453.60" y="171.30" width="145.65" height="109.10"/>
<path d="M453.60,280.30 h-5.60"/>
<path d="M453.60,236.80 h-5.60"/>
<path d="M453.60,193.30 h-5.60"/>
<path d="M455.07,280.40 v5.60"/>
<path d="M491.07,280.40 v5.60"/>
<path d="M527.07,280.40 v5.60"/>
<path d="M563.07,280.40 v5.60"/>
<path d="M599.07,280.40 v5.60"/>
</g>
<g class="ns">
<text x="442.20" y="284.60" font-size="12.6" text-anchor="end" letter-spacing="1.0">0.8</text>
<text x="442.20" y="241.10" font-size="12.6" text-anchor="end" letter-spacing="1.0">0.9</text>
<text x="439.90" y="197.60" font-size="12.6" text-anchor="end" letter-spacing="1.0">1</text>
<text x="450.50" y="307.2" font-size="12.6" letter-spacing="1.0">0</text>
<text x="481.40" y="307.2" font-size="12.6" letter-spacing="1.0">0.1</text>
<text x="517.45" y="307.2" font-size="12.6" letter-spacing="1.0">0.2</text>
<text x="553.50" y="307.2" font-size="12.6" letter-spacing="1.0">0.3</text>
<text x="589.55" y="307.2" font-size="12.6" letter-spacing="1.0">0.4</text>
</g>
</svg></body></html>
